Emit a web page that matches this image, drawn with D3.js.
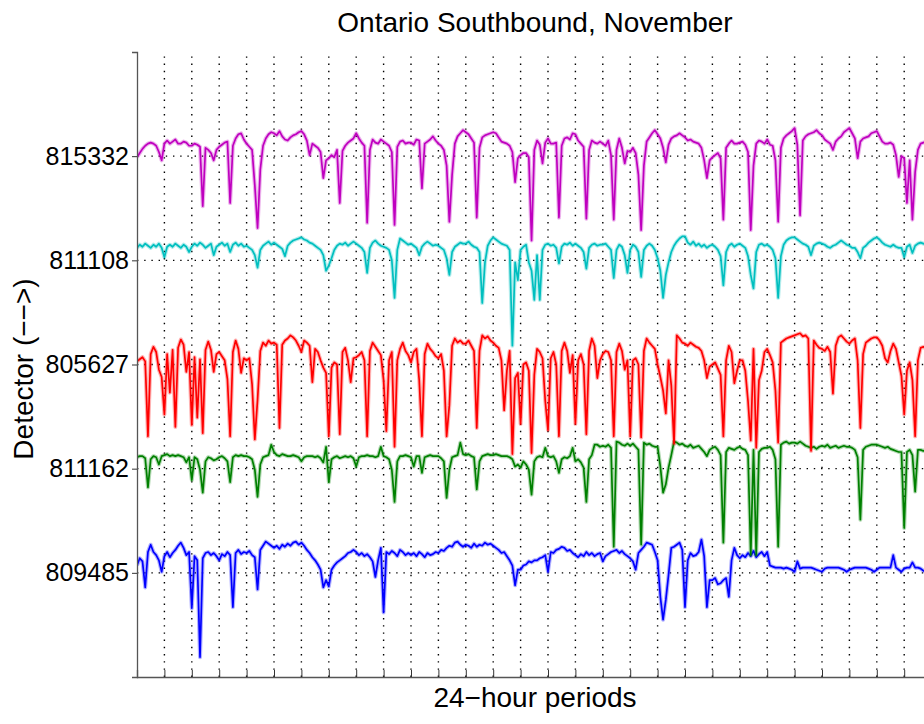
<!DOCTYPE html>
<html>
<head>
<meta charset="utf-8">
<script src="https://cdn.jsdelivr.net/npm/d3@7"></script>
<style>
  html, body { margin: 0; padding: 0; background: #fff; }
  svg { display: block; }
  text { font-family: "Liberation Sans", Arial, Helvetica, sans-serif; fill: #000; }
</style>
</head>
<body>
<svg id="chart" width="924" height="724"></svg>
<script>
// ---------------- data ----------------
const chartTitle = "Ontario Southbound, November";
const xLabel = "24\u2212hour periods";
const yLabel = "Detector (\u2212\u2212>)";

// detectors from bottom (level 1) to top (level 5)
const detectors = ["809485", "811162", "805627", "811108", "815332"];
const colors = ["#0000FF", "#008000", "#FF0000", "#00BFBF", "#BF00BF"];

const dayTicks = d3.range(1, 30);      // 24-hour period boundaries
const sampleStep = 0.1;                // days between samples

// normalized traffic measure, offset from each detector's base level
const d809485 = [
  .07,.14,.11,-.14,.20,.27,.20,.17,.12,.01,
  .16,.20,.15,.19,.22,.26,.29,.24,.17,.20,
  -.34,.16,.12,-.81,.14,.19,.20,.17,.19,.16,
  .12,.18,.16,.20,.17,-.33,.19,.22,.18,.20,
  .19,.21,.17,.15,-.16,.22,.26,.30,.28,.26,
  .24,.26,.23,.27,.25,.28,.26,.29,.30,.27,
  .29,.26,.22,.19,.15,.12,.08,.03,-.14,-.07,
  -.13,.03,.07,.10,.12,.14,.16,.19,.20,.22,
  .20,.17,.19,.16,.18,.15,.11,-.04,.12,.24,
  -.38,.20,.18,.21,.19,.16,.22,.20,.17,.19,
  .17,.19,.16,.20,.18,.15,.19,.17,.18,.20,
  .19,.22,.21,.24,.26,.25,.29,.30,.27,.25,
  .27,.26,.24,.28,.25,.27,.26,.29,.27,.28,
  .26,.24,.22,.19,.20,.16,.12,.07,-.12,.03,
  .03,.07,.08,.11,.10,.12,.12,.14,.15,.17,
  .01,.20,.19,.22,.23,.25,.24,.21,.22,.19,
  .17,.15,.18,.16,.20,.17,.19,.16,.18,.19,
  .11,.16,.18,.20,.21,.22,.19,.21,.18,.16,
  .14,.11,.03,.19,.22,.25,.29,.28,.27,.20,
  .12,-.23,-.45,-.26,-.02,.24,.25,.27,.29,.22,
  -.33,.12,.19,.16,.17,.20,.32,.16,-.33,-.07,
  -.07,-.05,-.11,-.10,-.07,-.05,-.23,.12,.24,.17,
  .14,.17,.15,.19,.16,.21,.15,.18,.20,.16,
  .20,.07,.06,.05,.05,.05,.04,.05,.04,.03,
  .01,.11,.04,.05,.05,.05,.05,.04,.03,.02,
  .01,.04,.05,.05,.05,.05,.05,.04,.03,.01,
  .03,.04,.05,.05,.05,.05,.05,.04,.03,.01,
  .03,.05,.05,.05,.05,.05,.17,.05,.03,.01,
  .04,.05,.05,.10,.05,.05,.04,.02,.01,.01
];
const d811162 = [
  .11,.12,.12,.10,-.18,.09,.12,.11,.04,.12,
  .13,.14,.12,.13,.12,.13,.12,.11,.06,.11,
  -.11,.11,.09,-.01,-.23,.07,.11,.10,.08,.09,
  .11,.12,.10,.07,-.13,.11,.13,.12,.13,.12,
  .12,.11,.09,-.01,-.27,.04,.11,.12,.13,.23,
  .16,.13,.12,.14,.13,.12,.12,.13,.12,.11,
  .07,.11,.12,.12,.12,.11,.12,.10,.06,.21,
  -.13,.09,.11,.12,.10,.11,.12,.11,.12,.10,
  .02,.11,.12,.12,.13,.12,.12,.11,.12,.21,
  .12,.11,.09,-.01,-.32,.07,.12,.12,.13,.12,
  .11,.02,.12,.12,-.04,.11,.12,.13,.12,.12,
  .12,.10,.07,-.28,-.01,.11,.12,.13,.25,.14,
  .13,.14,.12,.11,-.20,.07,.12,.13,.14,.13,
  .13,.14,.13,.12,.12,.12,.11,.09,.02,.04,
  .01,.07,.04,-.01,-.25,.07,.11,.12,.11,.20,
  .12,.11,.12,.07,-.04,.09,.11,.10,.12,.20,
  .07,.09,.06,.01,-.32,.09,.13,.23,.23,.21,
  .22,.21,.23,.20,-.75,.26,.25,.23,.22,.24,
  .22,.24,.21,.18,-.73,.25,.23,.24,.22,.21,
  .21,.02,-.23,-.15,.01,.13,.26,.25,.23,.24,
  .22,.21,.23,.20,.21,.22,.19,.16,.12,.18,
  .20,.21,.18,.13,-.71,.16,.20,.19,.18,.20,
  .21,.19,.18,.13,-.83,.18,-.83,.16,.19,.20,
  .20,.21,.18,.09,-.75,.23,.25,.26,.24,.25,
  .25,.24,.26,.24,.22,.21,.20,.21,.19,.21,
  .22,.21,.23,.20,.21,.22,.20,.21,.22,.21,
  .21,.20,.18,.11,-.49,.18,.21,.22,.23,.23,
  .23,.22,.21,.20,.21,.19,.18,.17,.16,.16,
  -.57,.16,.18,.13,-.22,.18,.18,.17,.18,.17
];
const d805627 = [
  .03,.05,.07,.03,-.69,.10,.17,.12,-.05,-.12,
  -.48,.10,-.27,.14,-.60,.16,.24,.19,-.07,.12,
  -.58,.07,-.51,.05,-.66,.14,.22,.14,-.07,.10,
  .12,.08,.04,-.14,-.69,.12,.23,.15,-.08,.06,
  .04,.06,-.19,-.72,-.34,.13,.21,.18,.23,.20,
  .21,.19,-.61,.19,.23,.25,.28,.26,.23,.18,
  .12,.23,.21,.18,-.17,.15,.12,.04,-.03,-.08,
  -.69,-.03,.02,.00,-.67,.12,.16,.04,-.17,.06,
  .07,.09,.12,.04,-.69,.13,.21,.17,.13,.09,
  -.15,-.64,.04,.12,-.79,.04,.15,.21,.13,.09,
  .02,.12,.15,-.15,-.69,.10,.20,.15,.12,.08,
  .06,.10,-.06,-.69,-.39,.18,.25,.21,.23,.20,
  .20,.23,.18,.13,-.61,.13,.28,.25,.27,.23,
  .21,.18,.16,.04,-.44,-.06,.13,-.86,-.13,-.08,
  -.57,.00,.02,-.06,-.85,-.10,.15,.12,.06,-.35,
  -.63,.06,.12,.00,-.69,.13,.21,.13,-.08,.09,
  -.57,.04,.10,.00,-.67,.13,.25,.18,-.13,.04,
  .10,.13,.12,.04,-.69,.12,.20,.13,-.05,.04,
  -.69,.04,.06,.00,-.70,.13,.25,.21,.18,.15,
  .00,-.12,-.25,-.47,.04,-.20,-.76,.28,.25,.21,
  .20,.18,.21,.19,.17,.16,.13,.04,-.13,-.02,
  .00,.02,-.04,-.10,-.69,.04,.18,.12,-.18,-.06,
  .04,.04,-.06,-.35,-.73,.15,-.80,-.15,-.06,.12,
  .15,.09,.02,-.25,-.75,.21,.23,.25,.26,.27,
  .28,.29,.30,.27,.28,.25,-.83,.23,.19,.16,
  .15,.13,.17,.12,-.28,.18,.26,.28,.25,.22,
  .20,.23,.25,.04,-.61,.10,.21,.23,.25,.26,
  .26,.23,.18,.06,.02,.13,.20,.15,.02,-.11,
  -.48,-.06,.02,-.15,-.69,.04,.16,.17,.15,.13
];
const d811108 = [
  .12,.15,.13,.16,.14,.12,.15,.13,.16,.12,
  .03,.13,.15,.13,.16,.14,.12,.15,.13,.08,
  .13,.16,.14,.17,.15,.12,.14,.16,.05,.13,
  .15,.17,.14,.16,.08,.15,.17,.14,.16,.13,
  .14,.12,.10,.05,-.07,.10,.14,.16,.18,.15,
  .17,.15,.13,.11,.04,.14,.17,.19,.20,.21,
  .22,.20,.19,.17,.16,.14,.12,.10,.05,-.10,
  -.05,.02,.10,.14,.16,.15,.17,.14,.16,.18,
  .16,.14,.12,.08,-.12,.12,.17,.19,.16,.14,
  .13,.12,.10,.00,-.36,.10,.21,.19,.17,.15,
  .16,.14,.12,.05,.13,.16,.18,.16,.14,.15,
  .14,.12,.10,.02,-.14,.08,.13,.15,.17,.16,
  .16,.18,.15,.13,.12,.08,-.41,-.02,.14,.19,
  .22,.20,.18,.16,.15,.14,.10,-.82,-.02,-.19,
  .10,.13,.15,-.02,-.10,-.38,.05,-.38,.10,.15,
  .16,.14,.15,.12,-.03,.13,.16,.15,.17,.14,
  .16,.14,.12,.08,-.08,.12,.15,.16,.14,.15,
  .15,.16,.13,.10,-.17,.10,.15,.13,.05,-.12,
  .10,.15,.13,.08,-.16,.10,.14,.16,.14,.10,
  .02,-.10,-.36,-.14,-.02,.08,.14,.18,.21,.23,
  .23,.17,.15,.18,.14,.16,.13,.15,.12,.14,
  .15,.13,.10,.04,-.24,.08,.14,.16,.13,.15,
  .16,.14,.12,.04,-.14,-.27,.08,.15,.16,.14,
  .15,.13,.10,.02,-.36,.04,.15,.19,.21,.22,
  .22,.20,.18,.16,.15,.13,.05,.14,.16,.17,
  .16,.15,.13,.12,.14,.15,.17,.19,.17,.15,
  .14,.12,.12,.08,.02,.12,.14,.17,.19,.21,
  .22,.20,.17,.15,.14,.13,.15,.13,.12,.12,
  .03,.13,.15,.07,.14,.16,.17,.16,.15,.14
];
const d815332 = [
  -.01,.03,.07,.10,.12,.13,.12,.10,.04,-.04,
  .12,.15,.12,.14,.16,.12,.12,.14,.13,.10,
  .10,.12,.11,.09,-.48,.08,.06,.03,-.04,.06,
  .09,.11,.13,.14,-.45,.10,.17,.21,.22,.16,
  .12,.09,.06,-.28,-.69,-.13,.10,.17,.21,.23,
  .22,.20,.24,.19,.16,.15,.18,.20,.21,.23,
  .24,.21,.15,.01,.12,.10,.08,.04,-.21,-.04,
  -.02,.01,-.01,.06,-.45,.05,.10,.13,.15,.17,
  .22,.17,.13,.10,-.64,.06,.16,.13,.12,.16,
  .14,.12,.10,.04,-.66,.09,.14,.15,.12,.13,
  .13,.11,.16,.15,-.31,.12,.14,.16,.19,.15,
  .12,.10,.06,-.09,-.63,-.18,.12,.19,.22,.25,
  .23,.21,.17,.13,-.59,.08,.18,.20,.21,.22,
  .23,.22,.18,.14,.13,.12,.10,.04,-.25,-.02,
  .01,.03,.03,-.01,-.81,.06,.15,.11,-.07,.13,
  .17,.12,.12,.13,-.59,.10,.17,.18,.16,.22,
  .21,.15,.12,.09,-.60,.06,.15,.13,.12,.14,
  .12,.10,.15,.01,-.61,.06,.17,.08,-.07,.05,
  .04,.08,.03,-.18,-.71,-.09,.14,.18,.22,.25,
  .21,.17,.08,-.06,.11,.17,.19,.20,.22,.20,
  .18,.15,.16,.14,.13,.12,.08,-.04,-.21,-.04,
  -.01,.01,.03,-.02,-.61,.08,.12,.15,.12,.12,
  .13,.14,.11,.04,-.71,-.09,.12,.15,.14,.12,
  .16,.11,.10,-.04,-.63,.08,.17,.20,.22,.24,
  .27,.11,-.57,.15,.19,.21,.22,.23,.25,.22,
  .20,.16,.14,.12,.06,.14,.17,.19,.23,.25,
  .27,.22,.17,-.02,.14,.17,.18,.19,.22,.23,
  .24,.19,.14,.12,.12,.13,.11,.01,-.20,.00,
  -.02,-.45,-.04,-.61,-.15,.06,.12,.13,.14,.13
];
const seriesValues = [d809485, d811162, d805627, d811108, d815332];

// ---------------- chart ----------------
const W = 924, H = 724;
const margin = { left: 137, top: 52, bottom: 47 };
const plotW = 822;                    // extends past the right edge of the window
const svg = d3.select("#chart");

const x = d3.scaleLinear().domain([0, 30]).range([margin.left, margin.left + plotW]);
const y = d3.scaleLinear().domain([0, 6]).range([H - margin.bottom, margin.top]);

const g = svg.append("g");

// vertical grid (24-hour periods)
g.append("g").selectAll("line").data(dayTicks).join("line")
  .attr("x1", d => x(d)).attr("x2", d => x(d))
  .attr("y1", y(0)).attr("y2", y(6))
  .attr("stroke", "#000").attr("stroke-width", 1.4)
  .attr("stroke-dasharray", "1.4,5.8");

// horizontal grid (detector levels)
const levels = detectors.map((d, i) => i + 1);
g.append("g").selectAll("line").data(levels).join("line")
  .attr("x1", x(0)).attr("x2", x(30))
  .attr("y1", d => y(d)).attr("y2", d => y(d))
  .attr("stroke", "#000").attr("stroke-width", 1.4)
  .attr("stroke-dasharray", "1.4,5.8");

// traces
const line = d3.line().x(d => x(d.t)).y(d => y(d.v));
svg.append("defs").append("clipPath").attr("id", "clip")
  .append("rect").attr("x", x(0)).attr("y", y(6)).attr("width", plotW).attr("height", y(0) - y(6));

const traces = g.append("g").attr("clip-path", "url(#clip)");
seriesValues.forEach((vals, i) => {
  const level = i + 1;
  const pts = vals.map((v, k) => ({ t: k * sampleStep, v: level + v }));
  // soft halo imitating the dense, noisy sampling of the original
  traces.append("path").datum(pts)
    .attr("fill", "none")
    .attr("stroke", colors[i])
    .attr("stroke-opacity", 0.3)
    .attr("stroke-width", 4)
    .attr("stroke-linejoin", "round")
    .attr("d", line);
  traces.append("path").datum(pts)
    .attr("fill", "none")
    .attr("stroke", colors[i])
    .attr("stroke-width", 1.7)
    .attr("stroke-linejoin", "round")
    .attr("d", line);
});

// axes
const xAxis = d3.axisBottom(x).tickValues(dayTicks).tickSize(-7).tickFormat("");
const xg = g.append("g").attr("transform", `translate(0,${y(0)})`).call(xAxis);
xg.select(".domain").attr("stroke", "#555").attr("stroke-width", 1.3);
xg.selectAll(".tick line").attr("stroke", "#333");

const yAxis = d3.axisLeft(y).tickValues(levels).tickSize(5).tickPadding(3)
  .tickFormat(d => detectors[d - 1]);
const yg = g.append("g").attr("transform", `translate(${x(0)},0)`).call(yAxis);
yg.select(".domain").attr("stroke", "#555").attr("stroke-width", 1.3);
yg.selectAll(".tick line").attr("stroke", "#333");
yg.selectAll(".tick text")
  .attr("font-family", '"Liberation Sans", Arial, sans-serif')
  .attr("font-size", 25).attr("fill", "#000");

// labels
svg.append("text").attr("x", 535).attr("y", 32)
  .attr("text-anchor", "middle").attr("font-size", 28).text(chartTitle);
svg.append("text").attr("x", 535).attr("y", 707)
  .attr("text-anchor", "middle").attr("font-size", 28).text(xLabel);
svg.append("text").attr("transform", "translate(33,369) rotate(-90)")
  .attr("text-anchor", "middle").attr("font-size", 28).text(yLabel);
</script>
</body>
</html>
